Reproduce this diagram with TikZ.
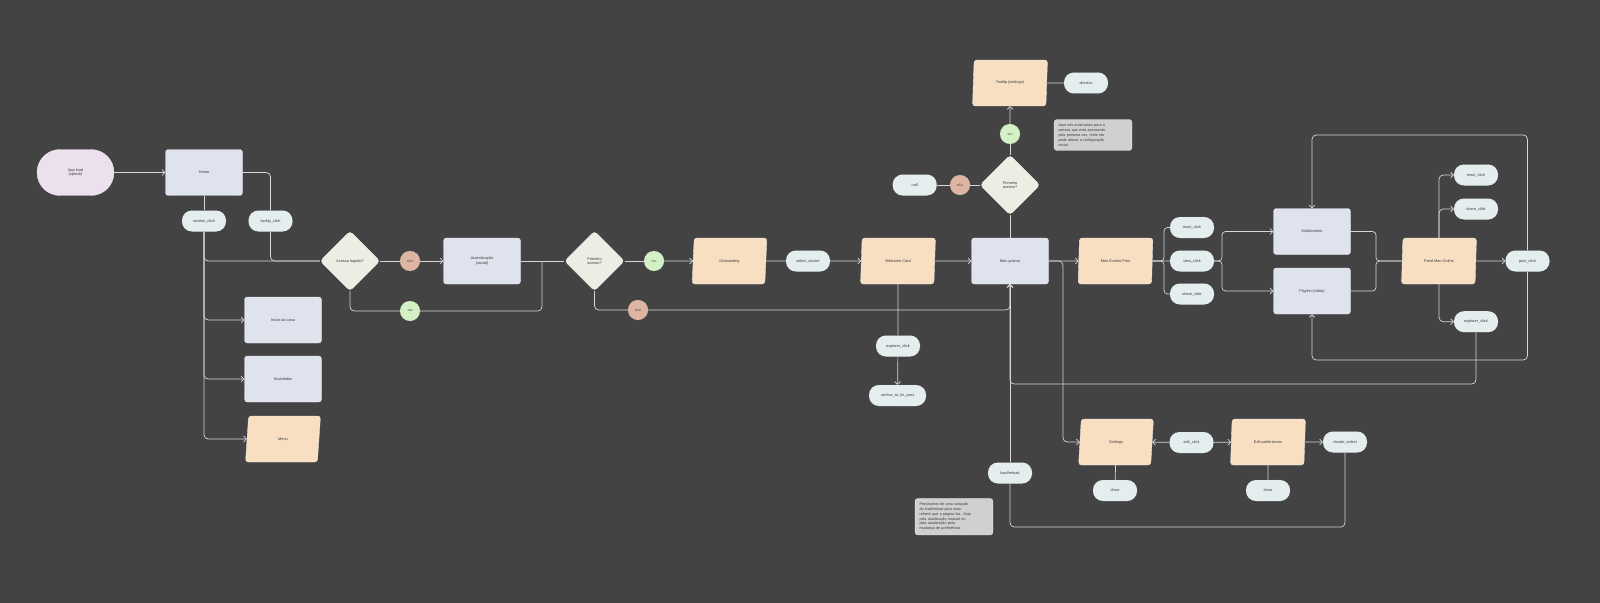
\documentclass[tikz,border=0pt]{standalone}
\usepackage{fontspec}
\setmainfont{Liberation Sans}
\usetikzlibrary{arrows.meta,positioning,shapes.geometric}
\definecolor{bgc}{RGB}{67,67,67}
\definecolor{linec}{RGB}{214,214,214}
\definecolor{edgec}{RGB}{235,235,235}
\definecolor{txtc}{RGB}{60,60,60}
\definecolor{boxc}{RGB}{223,227,238}
\definecolor{ioc}{RGB}{249,223,194}
\definecolor{startc}{RGB}{237,224,238}
\definecolor{decc}{RGB}{238,237,228}
\definecolor{pillc}{RGB}{228,238,238}
\definecolor{naoc}{RGB}{222,180,163}
\definecolor{simc}{RGB}{212,240,197}
\definecolor{notec}{RGB}{207,208,207}

\begin{document}
\begin{tikzpicture}[
x=0.05cm, y=-0.05cm,
font=\fontsize{5.5}{6.6}\selectfont,
box/.style={draw=edgec, line width=0.5pt, rounded corners=4pt, fill=boxc, text=txtc, minimum width=3.85cm, minimum height=2.3cm, align=center},
io/.style={trapezium, trapezium left angle=85, trapezium right angle=95, trapezium stretches=true, draw=edgec, line width=0.5pt, rounded corners=4pt, fill=ioc, text=txtc, minimum width=3.75cm, minimum height=2.3cm, align=center},
startbox/.style={box, fill=startc, rounded corners=1.15cm},
dec/.style={diamond, draw=edgec, line width=0.5pt, rounded corners=5pt, fill=decc, text=txtc, minimum width=3cm, minimum height=3cm, inner sep=0pt, align=center},
pill/.style={draw=edgec, line width=0.5pt, dotted, rounded corners=5mm, fill=pillc, text=txtc, minimum width=2.2cm, minimum height=1.05cm},
badge/.style={circle, draw=edgec, line width=0.5pt, dotted, text=txtc, minimum size=1cm, inner sep=0pt, font=\fontsize{4}{5}\selectfont},
nao/.style={badge, fill=naoc},
sim/.style={badge, fill=simc},
note/.style={draw=edgec, line width=0.5pt, rounded corners=4pt, fill=notec, text=txtc, text width=3.45cm, align=left, inner sep=2.2mm, font=\fontsize{5.3}{6.9}\selectfont},
link/.style={draw=linec, line width=1pt, rounded corners=6pt},
arr/.style={link, -{Straight Barb[length=1.4mm, width=3mm]}}
]
\useasboundingbox (0,0) rectangle (1600,603);
\fill[bgc] (0,0) rectangle (1600,603);

\node[startbox] (app) at (75.5,172.5) {App load\\(splash)};
\node[box] (home) at (204,172.5) {Home};
\node[pill] (secclick) at (204,221) {section\_click};
\node[pill] (tipclick) at (270.5,221) {tooltip\_click};
\node[box] (inicio) at (283,320) {Início da casa};
\node[box] (novid) at (283,379) {Novidades};
\node[io] (menu) at (283,439) {Menu};
\node[dec] (logado) at (350,261) {Acesso logado?};
\node[nao] (nao1) at (410,261) {NÃO};
\node[sim] (sim1) at (410,311) {SIM};
\node[box] (auth) at (482,261) {Autenticação\\(social)};
\coordinate (join1) at (542,261);
\node[dec] (primeiro) at (594.5,261) {Primeiro\\acesso?};
\node[sim] (sim2) at (654,261) {Sim};
\node[nao] (nao2) at (638,310) {NÃO};
\node[io] (onboard) at (729.5,261) {Onboarding};
\node[pill] (selcluster) at (808,261) {select\_cluster};
\node[io] (welcome) at (898,261) {Welcome Card};
\node[pill] (explA) at (898,346) {explorer\_click};
\node[pill, minimum width=2.85cm] (anchor) at (897.5,395.5) {anchor\_to\_fst\_post};
\node[box] (prisor) at (1010,261) {Meu prisma};
\node[dec] (prim3) at (1010,185) {Primeiro\\acesso?};
\node[sim] (sim3) at (1010,134) {Sim};
\node[nao] (nao3) at (960,185) {NÃO};
\node[pill] (nullnode) at (914.7,185) {null};
\node[io] (tooltip) at (1010,83) {Tooltip (settings)};
\node[pill] (dismiss) at (1086,83) {dismiss};
\node[note] (notetop) at (1093,135) {Aqui nós mostramos para a\\pessoa que está acessando\\pela primeira vez, onde ela\\pode alterar a configuração\\inicial.};
\node[io] (evento) at (1115.5,261) {Meu Evento Post};
\node[pill] (reactA) at (1192,227.5) {react\_click};
\node[pill] (viewA) at (1192,261) {view\_click};
\node[pill] (shareA) at (1192,294) {share\_click};
\node[box] (multi) at (1312,231.5) {Multicontent};
\node[box] (playlist) at (1312,291) {Playlist (vídeo)};
\node[io] (feed) at (1439,261) {Feed Meu Online};
\node[pill] (reactB) at (1476,175) {react\_click};
\node[pill] (shareB) at (1476,209) {share\_click};
\node[pill] (postB) at (1527.5,261) {post\_click};
\node[pill] (explB) at (1476,321.7) {explorer\_click};
\coordinate (split) at (1063,261);
\node[io] (settings) at (1116,442) {Settings};
\node[pill] (editclick) at (1191.5,442.5) {edit\_click};
\node[io] (editpref) at (1268,442) {Edit preferences};
\node[pill] (clsel) at (1345,442) {cluster\_select};
\node[pill] (closeA) at (1115,490.5) {close};
\node[pill] (closeB) at (1268,490.5) {close};
\node[pill] (reload) at (1010,473) {load/reload};
\node[note] (notebot) at (954,516.7) {Precisamos de uma variação\\do load/reload para esse\\refresh que a página faz. Seja\\pela atualização manual ou\\pela atualização pela\\mudança de preferência.};

\draw[arr] (app) -- (home);
\draw[link] (home.east) -| (tipclick.north);
\draw[link] (home) -- (secclick);
\draw[link] (tipclick.south) |- (logado.west);
\draw[link] (secclick.south) |- (logado.west);
\draw[arr] (secclick.south) |- (inicio.west);
\draw[arr] (secclick.south) |- (novid.west);
\draw[arr] (secclick.south) |- (menu.west);
\draw[link] (logado) -- (nao1);
\draw[arr] (nao1) -- (auth);
\draw[link] (logado.south) |- (sim1.west);
\draw[link] (sim1.east) -| (join1);
\draw[link] (auth) -- (primeiro);
\draw[link] (primeiro) -- (sim2);
\draw[arr] (sim2) -- (onboard);
\draw[link] (primeiro.south) |- (nao2.west);
\draw[arr] (nao2.east) -| (prisor.south);
\draw[link] (onboard) -- (selcluster);
\draw[arr] (selcluster) -- (welcome);
\draw[arr] (welcome) -- (prisor);
\draw[link] (welcome) -- (explA);
\draw[arr] (explA) -- (anchor);
\draw[link] (prisor) -- (prim3);
\draw[link] (prim3) -- (nao3);
\draw[link] (nao3) -- (nullnode);
\draw[link] (prim3) -- (sim3);
\draw[arr] (sim3) -- (tooltip);
\draw[link] (tooltip) -- (dismiss);
\draw[arr] (prisor) -- (evento);
\draw[arr] (prisor.east) -- (split) |- (settings.west);
\draw[link, rounded corners=5pt] (evento.east) -- (1164,261) |- (reactA.west);
\draw[link, rounded corners=5pt] (evento.east) -- (1164,261) |- (shareA.west);
\draw[link] (evento) -- (viewA);
\draw[arr, rounded corners=5pt] (viewA.east) -- (1222,261) |- (multi.west);
\draw[arr, rounded corners=5pt] (viewA.east) -- (1222,261) |- (playlist.west);
\draw[link, rounded corners=5pt] (multi.east) -| (1376,261) -- (feed.west);
\draw[link, rounded corners=5pt] (playlist.east) -| (1376,261) -- (feed.west);
\draw[arr] (feed.north) |- (reactB.west);
\draw[arr] (feed.north) |- (shareB.west);
\draw[arr] (feed.south) |- (explB.west);
\draw[arr] (feed) -- (postB);
\draw[arr] (postB.north) -- (postB.north |- 0,135) -| (multi.north);
\draw[arr] (postB.south) -- (postB.south |- 0,360) -| (playlist.south);
\draw[arr] (explB.south) -- (explB.south |- 0,384) -| (prisor.south);
\draw[arr] (editclick) -- (settings);
\draw[arr] (editclick) -- (editpref);
\draw[arr] (editpref) -- (clsel);
\draw[link] (settings) -- (closeA);
\draw[link] (editpref) -- (closeB);
\draw[link] (clsel.south) -- (clsel.south |- 0,527) -| (reload.south);
\draw[arr] (reload) -- (prisor);
\end{tikzpicture}
\end{document}
